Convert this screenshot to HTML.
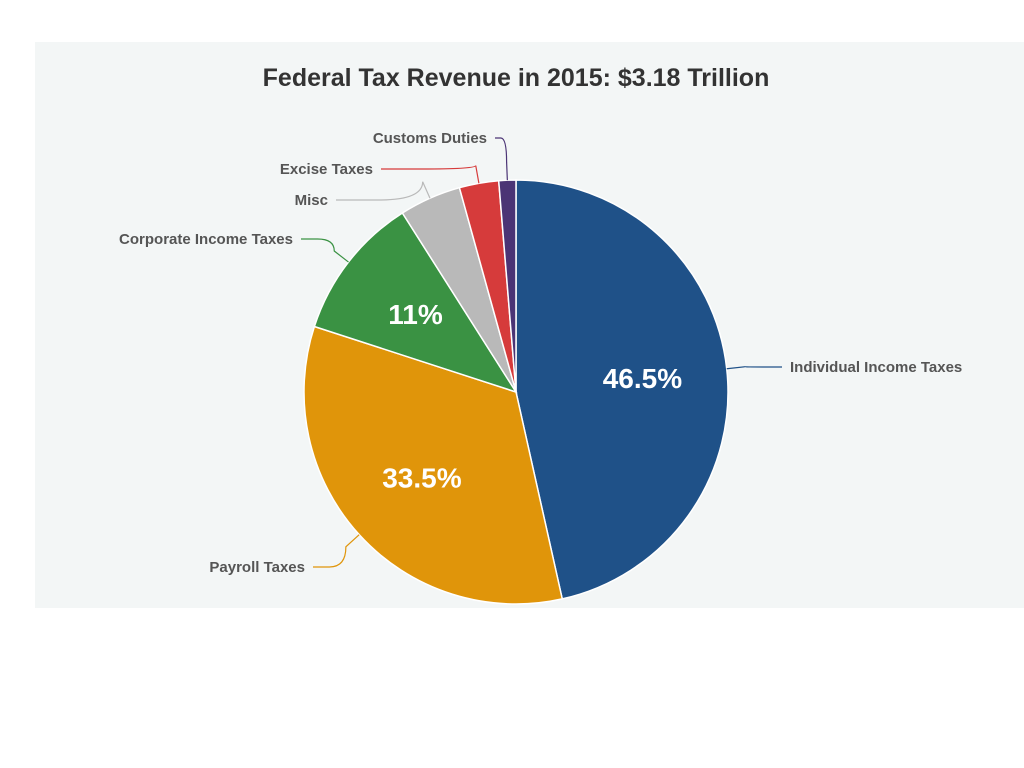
<!DOCTYPE html>
<html><head><meta charset="utf-8"><style>
body{margin:0;width:1024px;height:768px;background:#fff;overflow:hidden;font-family:"Liberation Sans",sans-serif}
#bg{position:absolute;left:35px;top:42px;width:989px;height:566px;background:#f3f6f6}
svg{position:absolute;left:0;top:0}
</style></head><body>
<div id="bg"></div>
<svg id="chart" width="1024" height="768">
<text x="516" y="86" text-anchor="middle" font-size="25" font-weight="bold" fill="#333">Federal Tax Revenue in 2015: $3.18 Trillion</text>
</svg>
<script>
const categories=["Individual Income Taxes","Payroll Taxes","Corporate Income Taxes","Misc","Excise Taxes","Customs Duties"];
const values=[46.5,33.5,11,4.7,3.0,1.3];
const insideLabels=["46.5%","33.5%","11%","","",""];
const colors=["#1f5188","#e0950a","#3a9243","#b9b9b9","#d63b3b","#4b3475"];
const labelPos=[[790,372,"start"],[305,572,"end"],[293,244,"end"],[328,205,"end"],[373,174,"end"],[487,143,"end"]];
const svg=document.getElementById('chart');
const NS="http://www.w3.org/2000/svg";
const cx=516,cy=392,R=212;
const total=values.reduce((a,b)=>a+b,0);
function pt(a,r){return [cx+r*Math.sin(a),cy-r*Math.cos(a)];}
let acc=0;
values.forEach((v,i)=>{
  const a0=acc/total*2*Math.PI;acc+=v;const a1=acc/total*2*Math.PI;
  const p0=pt(a0,R),p1=pt(a1,R);
  const path=document.createElementNS(NS,'path');
  path.setAttribute('d',`M${cx},${cy}L${p0[0]},${p0[1]}A${R},${R} 0 ${a1-a0>Math.PI?1:0} 1 ${p1[0]},${p1[1]}Z`);
  path.setAttribute('fill',colors[i]);path.setAttribute('stroke','#fff');path.setAttribute('stroke-width','1.5');
  
  
  svg.appendChild(path);
  const am=(a0+a1)/2;
  const e=pt(am,R),m=pt(am,R+18);
  const lp=labelPos[i];
  const lx=lp[2]==="start"?lp[0]-8:lp[0]+8;
  const ly=lp[1]-5;
  const ln=document.createElementNS(NS,'path');
  ln.setAttribute('d',`M${e[0]},${e[1]}L${m[0]},${m[1]}Q${m[0]},${ly} ${(m[0]+lx)/2},${ly}L${lx},${ly}`);
  ln.setAttribute('fill','none');ln.setAttribute('stroke',colors[i]);ln.setAttribute('stroke-width','1.2');
  
  
  svg.appendChild(ln);
  const t=document.createElementNS(NS,'text');
  t.setAttribute('x',lp[0]);t.setAttribute('y',lp[1]);t.setAttribute('text-anchor',lp[2]);
  t.setAttribute('font-size','15');t.setAttribute('font-weight','bold');t.setAttribute('fill','#555');
  t.textContent=categories[i];
  
  
  svg.appendChild(t);
  if(insideLabels[i]){
    const q=pt(am,R*0.6);
    const it=document.createElementNS(NS,'text');
    it.setAttribute('x',q[0]);it.setAttribute('y',q[1]+10);it.setAttribute('text-anchor','middle');
    it.setAttribute('font-size','28');it.setAttribute('font-weight','bold');it.setAttribute('fill','#fff');
    it.textContent=insideLabels[i];
    
    
    svg.appendChild(it);
  }
});
</script>
</body></html>
